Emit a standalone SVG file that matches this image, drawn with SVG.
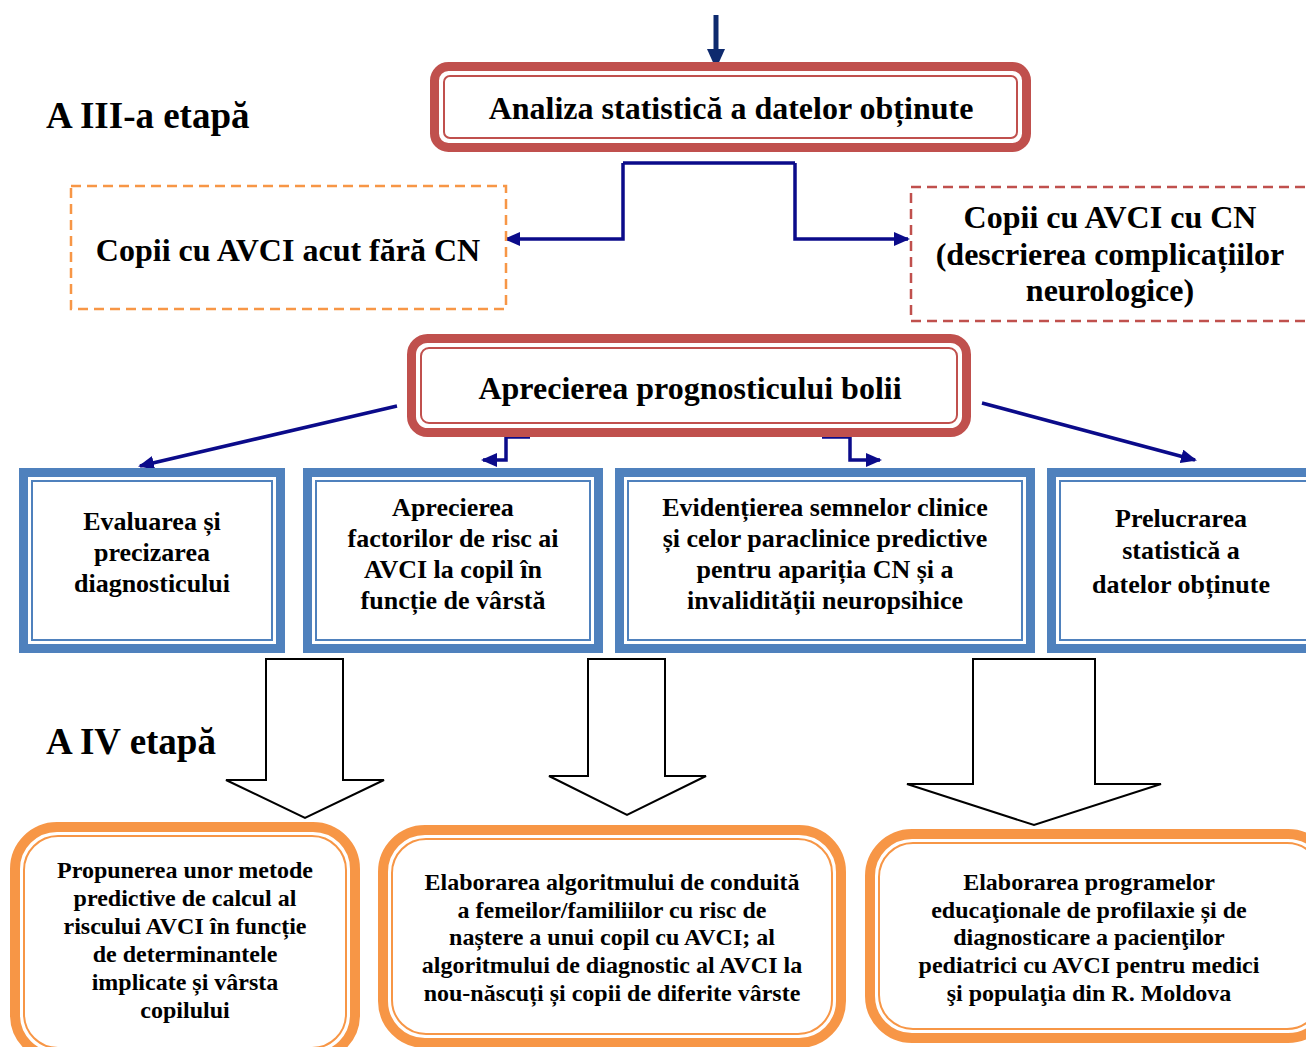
<svg xmlns="http://www.w3.org/2000/svg" width="1306" height="1047" viewBox="0 0 1306 1047">
<style>
text{font-family:"Liberation Serif","Times New Roman",serif;font-weight:bold;fill:#000;text-anchor:middle}
.stage{text-anchor:start;font-size:37px}
.t32{font-size:32px}
.t26{font-size:26px}
.t24{font-size:24px}
.redO{fill:#fff;stroke:#c0504d;stroke-width:9}
.redI{fill:none;stroke:#c0504d;stroke-width:2}
.bluO{fill:#fff;stroke:#4f81bd;stroke-width:9}
.bluI{fill:none;stroke:#4f81bd;stroke-width:2}
.orO{fill:#fff;stroke:#f79646;stroke-width:10}
.orI{fill:none;stroke:#f79646;stroke-width:2}
.conn{fill:none;stroke:#0b0b8a;stroke-width:3.5}
.block{fill:#fff;stroke:#000;stroke-width:2}
</style>
<defs>
<marker id="ah" markerUnits="userSpaceOnUse" markerWidth="16" markerHeight="14" refX="14" refY="7" orient="auto">
<path d="M0,0 L16,7 L0,14 z" fill="#0b0b8a"/>
</marker>
</defs>
<rect width="1306" height="1047" fill="#fff"/>

<text class="stage" x="46" y="128">A III-a etapă</text>
<text class="stage" x="46" y="754">A IV etapă</text>

<g id="connectors">
<line x1="716" y1="15" x2="716" y2="50" stroke="#0e2a6e" stroke-width="5"/>
<path d="M707,49 L725,49 L716,69 z" fill="#0e2a6e"/>
<path class="conn" d="M623,163 H795"/>
<path class="conn" d="M623,163 V239 H506" marker-end="url(#ah)"/>
<path class="conn" d="M795,163 V239 H908" marker-end="url(#ah)"/>
<path class="conn" d="M397,406 L140,466" marker-end="url(#ah)"/>
<path class="conn" d="M982,403 L1195,460" marker-end="url(#ah)"/>
<path class="conn" d="M530,437 H506 V460 H483" marker-end="url(#ah)"/>
<path class="conn" d="M822,437 H850 V460 H880" marker-end="url(#ah)"/>
<polygon class="block" points="266,659 343,659 343,780 384,780 305,818 226,780 266,780"/>
<polygon class="block" points="588,659 665,659 665,776 706,776 627,815 549,776 588,776"/>
<polygon class="block" points="973,659 1095,659 1095,784 1161,784 1034,825 907,784 973,784"/>
</g>

<g id="n-analiza">
<rect class="redO" x="434.5" y="66.5" width="592" height="81" rx="14"/>
<rect class="redI" x="444" y="76" width="573" height="62" rx="6"/>
<text class="t32" x="731" y="119">Analiza statistică a datelor obținute</text>
</g>

<g id="n-fara-cn">
<rect x="71" y="186" width="435" height="123" fill="#fff" stroke="#f79646" stroke-width="2.5" stroke-dasharray="10,6"/>
<text class="t32" x="288" y="261">Copii cu AVCI acut fără CN</text>
</g>

<g id="n-cu-cn">
<rect x="911" y="187" width="410" height="134" fill="#fff" stroke="#c0504d" stroke-width="2.5" stroke-dasharray="10,6"/>
<text class="t32" x="1110" y="228">Copii cu AVCI cu CN</text>
<text class="t32" x="1110" y="265">(descrierea complicațiilor</text>
<text class="t32" x="1110" y="301">neurologice)</text>
</g>

<g id="n-prognostic">
<rect class="redO" x="411.5" y="338.5" width="555" height="94" rx="16"/>
<rect class="redI" x="421" y="348" width="536" height="75" rx="8"/>
<text class="t32" x="690" y="399">Aprecierea prognosticului bolii</text>
</g>

<g id="n-evaluarea">
<rect class="bluO" x="23.5" y="472.5" width="257" height="176"/>
<rect class="bluI" x="32" y="481" width="240" height="159"/>
<text class="t26" x="152" y="530">Evaluarea și</text>
<text class="t26" x="152" y="561">precizarea</text>
<text class="t26" x="152" y="592">diagnosticului</text>
</g>

<g id="n-factori">
<rect class="bluO" x="307.5" y="472.5" width="291" height="176"/>
<rect class="bluI" x="316" y="481" width="274" height="159"/>
<text class="t26" x="453" y="516">Aprecierea</text>
<text class="t26" x="453" y="547">factorilor de risc ai</text>
<text class="t26" x="453" y="578">AVCI la copil în</text>
<text class="t26" x="453" y="609">funcție de vârstă</text>
</g>

<g id="n-semne">
<rect class="bluO" x="619.5" y="472.5" width="411" height="176"/>
<rect class="bluI" x="628" y="481" width="394" height="159"/>
<text class="t26" x="825" y="516">Evidențierea semnelor clinice</text>
<text class="t26" x="825" y="547">și celor paraclinice predictive</text>
<text class="t26" x="825" y="578">pentru apariția CN și a</text>
<text class="t26" x="825" y="609">invalidității neuropsihice</text>
</g>

<g id="n-prelucrarea">
<rect class="bluO" x="1051.5" y="472.5" width="270" height="176"/>
<rect class="bluI" x="1060" y="481" width="253" height="159"/>
<text class="t26" x="1181" y="527">Prelucrarea</text>
<text class="t26" x="1181" y="559">statistică a</text>
<text class="t26" x="1181" y="593">datelor obținute</text>
</g>

<g id="n-propunerea">
<rect class="orO" x="15" y="827" width="340" height="230" rx="42"/>
<rect class="orI" x="24" y="836" width="322" height="212" rx="34"/>
<text class="t24" x="185" y="878">Propunerea unor metode</text>
<text class="t24" x="185" y="906">predictive de calcul al</text>
<text class="t24" x="185" y="934">riscului AVCI în funcție</text>
<text class="t24" x="185" y="962">de determinantele</text>
<text class="t24" x="185" y="990">implicate și vârsta</text>
<text class="t24" x="185" y="1018">copilului</text>
</g>

<g id="n-algoritm">
<rect class="orO" x="383" y="830" width="458" height="213" rx="42"/>
<rect class="orI" x="392" y="839" width="440" height="195" rx="34"/>
<text class="t24" x="612" y="890">Elaborarea algoritmului de conduită</text>
<text class="t24" x="612" y="918">a femeilor/familiilor cu risc de</text>
<text class="t24" x="612" y="945">naștere a unui copil cu AVCI; al</text>
<text class="t24" x="612" y="973">algoritmului de diagnostic al AVCI la</text>
<text class="t24" x="612" y="1001">nou-născuți și copii de diferite vârste</text>
</g>

<g id="n-programe">
<rect class="orO" x="870" y="834" width="460" height="204" rx="42"/>
<rect class="orI" x="879" y="843" width="442" height="186" rx="34"/>
<text class="t24" x="1089" y="890">Elaborarea programelor</text>
<text class="t24" x="1089" y="918">educaţionale de profilaxie și de</text>
<text class="t24" x="1089" y="945">diagnosticare a pacienţilor</text>
<text class="t24" x="1089" y="973">pediatrici cu AVCI pentru medici</text>
<text class="t24" x="1089" y="1001">şi populaţia din R. Moldova</text>
</g>
</svg>
